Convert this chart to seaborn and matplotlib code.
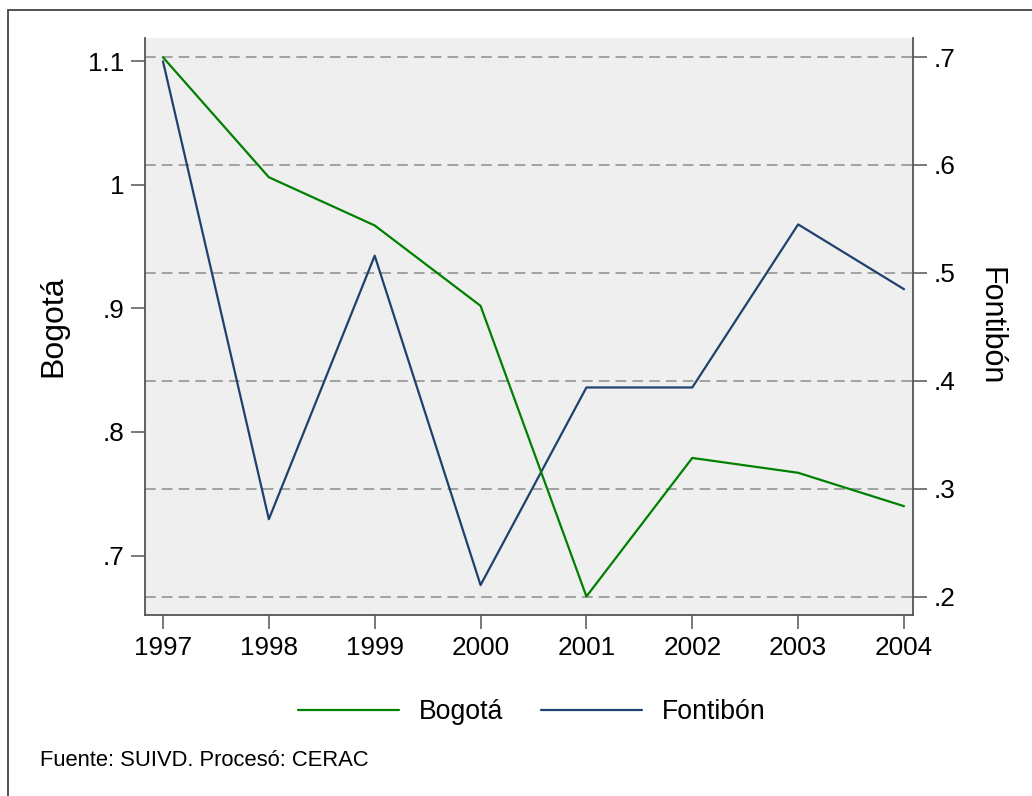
import pandas as pd
import matplotlib.pyplot as plt
import seaborn as sns
from matplotlib.patches import Rectangle
from matplotlib.lines import Line2D

# data
years = [1997, 1998, 1999, 2000, 2001, 2002, 2003, 2004]
bogota = [1.103, 1.006, 0.967, 0.902, 0.667, 0.779, 0.767, 0.740]
fontibon = [0.696, 0.272, 0.516, 0.211, 0.394, 0.394, 0.545, 0.485]
left_ticks = [0.7, 0.8, 0.9, 1.0, 1.1]
left_labels = ['.7', '.8', '.9', '1', '1.1']
right_ticks = [0.2, 0.3, 0.4, 0.5, 0.6, 0.7]
right_labels = ['.2', '.3', '.4', '.5', '.6', '.7']

df = pd.DataFrame({'year': years, 'Bogotá': bogota, 'Fontibón': fontibon})

sns.set_style('ticks')
plt.rcParams['font.family'] = ['Liberation Sans', 'DejaVu Sans']
plt.rcParams['text.color'] = 'black'
plt.rcParams['axes.labelcolor'] = 'black'
plt.rcParams['xtick.labelcolor'] = 'black'
plt.rcParams['ytick.labelcolor'] = 'black'

green = '#008000'
navy = '#1f416f'
spine_col = '#555555'

fig = plt.figure(figsize=(10.32, 7.96), dpi=100)
ax = fig.add_axes([145/1032, 1-615/796, (913-145)/1032, (615-38)/796])
ax2 = ax.twinx()

# right axis sits below so its grid is under the Bogotá line
ax.set_zorder(ax2.get_zorder() + 1)
ax.patch.set_visible(False)
ax2.patch.set_visible(True)
ax2.patch.set_facecolor('#efefef')

sns.lineplot(data=df, x='year', y='Bogotá', ax=ax, color=green, lw=1.6)
sns.lineplot(data=df, x='year', y='Fontibón', ax=ax2, color=navy, lw=1.6)

ax.set_xlim(1996.83, 2004.085)
ax.set_ylim(0.652, 1.1186)
ax2.set_ylim(0.1833, 0.7176)

ax.set_xticks(years)
ax.set_xticklabels([str(y) for y in years])
ax.set_yticks(left_ticks)
ax.set_yticklabels(left_labels)
ax2.set_yticks(right_ticks)
ax2.set_yticklabels(right_labels)

ax2.grid(axis='y', color='#8c8c8c', linestyle=(0, (7, 4)), lw=1.1)
ax2.grid(axis='x', visible=False)

for a in (ax, ax2):
    a.spines['top'].set_visible(False)
    for s in ('left', 'right', 'bottom'):
        a.spines[s].set_color(spine_col)
        a.spines[s].set_linewidth(1.3)
    a.tick_params(axis='both', labelsize=18.8, length=10, width=1.1, color=spine_col, pad=5)
ax.spines['right'].set_visible(False)
ax2.spines['left'].set_visible(False)
ax2.spines['bottom'].set_visible(False)

ax.set_xlabel('')
ax.set_ylabel('Bogotá', fontsize=23, labelpad=14)
ax2.set_ylabel('Fontibón', fontsize=22, rotation=270, labelpad=36)

handles = [Line2D([], [], color=green, lw=1.6), Line2D([], [], color=navy, lw=1.6)]
fig.legend(handles, ['Bogotá', 'Fontibón'], loc='center', bbox_to_anchor=(532/1032, 1-712/796),
           ncol=2, frameon=False, fontsize=19.2, handlelength=3.8, columnspacing=1.4, handletextpad=0.75)

fig.text(40/1032, 1-760/796, 'Fuente: SUIVD. Procesó: CERAC', fontsize=15.8, va='center', ha='left')

# outer frame, cut off at the right and bottom like the reference
fig.patches.append(Rectangle((8/1032, -0.05), 1.1, 1-10/796+0.05, transform=fig.transFigure,
                             fill=False, edgecolor='#444444', lw=1.3))

fig.savefig('out.png', dpi=100, facecolor='white')
